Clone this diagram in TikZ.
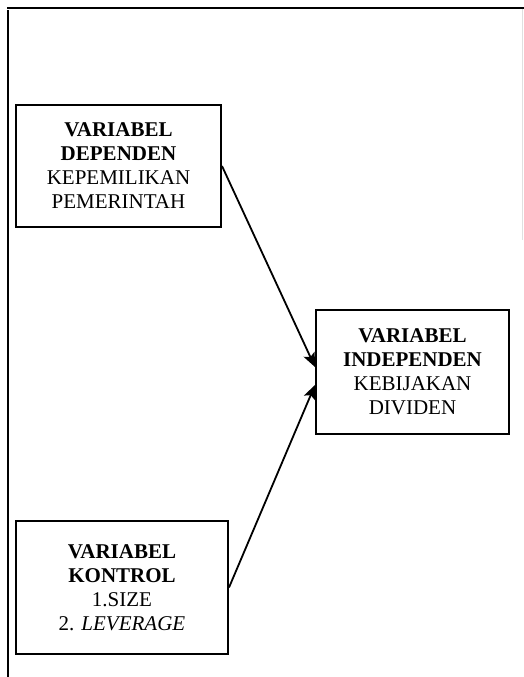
\documentclass[tikz,border=0pt]{standalone}
\usepackage{fontspec}
\setmainfont{Liberation Serif}
\usepackage{xcolor}
\usetikzlibrary{arrows.meta,positioning}

\begin{document}
\begin{tikzpicture}[
    x=1pt,y=-1pt,
    varbox/.style={rectangle,draw=black,line width=2pt,align=center,
                   inner sep=0pt,font=\fontsize{21}{24}\selectfont},
    link/.style={line width=1.8pt,-{Stealth[length=14pt,width=12pt,inset=3pt]}},
]
\useasboundingbox (0,0) rectangle (524,677);
% frame
\draw[line width=2pt] (8,677) -- (8,10);
\draw[line width=2pt] (7,8) -- (524,8);
\draw[black!12,line width=1pt] (522,9) -- (522,240);
% variables
\node[varbox,minimum width=205pt,minimum height=122pt] (dep) at (118.5,166)
    {\textbf{VARIABEL}\\\textbf{DEPENDEN}\\KEPEMILIKAN\\PEMERINTAH};
\node[varbox,minimum width=193pt,minimum height=124pt] (indep) at (412.5,372)
    {\textbf{VARIABEL}\\\textbf{INDEPENDEN}\\KEBIJAKAN\\DIVIDEN};
\node[varbox,minimum width=212pt,minimum height=133pt] (ctrl) at (122,587.5)
    {\textbf{VARIABEL}\\\textbf{KONTROL}\\1.SIZE\\2. \textit{LEVERAGE}};
% links
\draw[link] (dep.east) -- ([yshift=5pt]indep.west);
\draw[link] (ctrl.east) -- ([yshift=-13pt]indep.west);
\end{tikzpicture}
\end{document}
